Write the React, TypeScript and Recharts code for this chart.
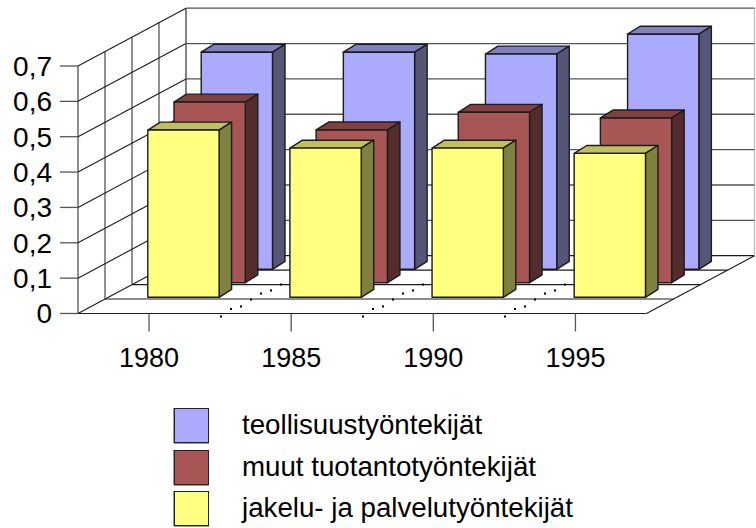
import React from "react";
import { BarChart, Bar, XAxis, YAxis, CartesianGrid, Legend } from "recharts";

const years = ["1980", "1985", "1990", "1995"];
const teollisuus = [0.614, 0.614, 0.609, 0.665];
const muut = [0.511, 0.432, 0.482, 0.466];
const jakelu = [0.473, 0.422, 0.422, 0.407];
const yTicks = [0, 0.1, 0.2, 0.3, 0.4, 0.5, 0.6, 0.7];
const seriesNames = ["teollisuustyöntekijät", "muut tuotantotyöntekijät", "jakelu- ja palvelutyöntekijät"];

const rows = years.map((year, i) => ({
  year,
  teollisuus: teollisuus[i],
  muut: muut[i],
  jakelu: jakelu[i],
}));

const FONT = '"Liberation Sans", Arial, sans-serif';
const LINE = "#1c1c1c";
const SOFT = "#555";
const DEPTH_X = 108;
const DEPTH_Y = 57.8;
const FLOOR_FRACS = [0.25, 0.5, 0.75];
const SPECKS: [number, number][] = [[0, 2], [10, -5.5], [20, -8], [30, -15], [40, -21], [50, -24], [60, -30]];
const BOUNDARIES = [220, 362, 504];

function bar3d(dx: number, dy: number, side: string, top: string, depthX = 12.5, depthY = 7.9) {
  return (props: any) => {
    const { x, y, width, height, fill } = props;
    const l = x + dx;
    const r = l + width;
    const t = y + dy;
    const b = t + height;
    return (
      <g stroke={LINE} strokeWidth={1.4} strokeLinejoin="round">
        <polygon points={`${l},${t} ${l + depthX},${t - depthY} ${r + depthX},${t - depthY} ${r},${t}`} fill={top} />
        <polygon points={`${r},${t} ${r + depthX},${t - depthY} ${r + depthX},${b - depthY} ${r},${b}`} fill={side} />
        <rect x={l} y={t} width={width} height={height} fill={fill} />
      </g>
    );
  };
}

const gridLine = (props: any) => {
  const { x1, x2, y1, index } = props;
  const y = y1;
  const isFloor = index === 0 || Math.abs(y - 313.5) < 1;
  return (
    <g key={`wall-${y}`} fill="none">
      <line x1={x1} y1={y} x2={x1 + DEPTH_X} y2={y - DEPTH_Y} stroke={LINE} strokeWidth={1.1} />
      <line x1={x1 + DEPTH_X} y1={y - DEPTH_Y} x2={x2 + DEPTH_X} y2={y - DEPTH_Y} stroke={isFloor ? LINE : SOFT} strokeWidth={1.3} />
      {isFloor && (
        <g>
          <line x1={x2} y1={y} x2={x2 + DEPTH_X} y2={y - DEPTH_Y} stroke={LINE} strokeWidth={1.1} />
          <line x1={x2 + DEPTH_X} y1={y - DEPTH_Y} x2={x2 + DEPTH_X} y2={8} stroke="#bbb" strokeWidth={1.2} />
          <line x1={x1 + DEPTH_X} y1={y - DEPTH_Y} x2={x1 + DEPTH_X} y2={8} stroke={LINE} strokeWidth={1.1} />
          {FLOOR_FRACS.map((f) => (
            <g key={f}>
              <line x1={x1 + DEPTH_X * f} y1={y - DEPTH_Y * f} x2={x2 + DEPTH_X * f} y2={y - DEPTH_Y * f} stroke={LINE} strokeWidth={1.1} />
              <line x1={x1 + DEPTH_X * f} y1={y - DEPTH_Y * f} x2={x1 + DEPTH_X * f} y2={8 + DEPTH_Y * (1 - f)} stroke={SOFT} strokeWidth={1.3} />
            </g>
          ))}
          {BOUNDARIES.map((bx) =>
            SPECKS.map(([sx, sy]) => (
              <rect key={`${bx}-${sx}`} x={bx + sx} y={y + sy} width={2} height={2} fill="#000" />
            )),
          )}
        </g>
      )}
    </g>
  );
};

const legendContent = (props: any) => {
  const tops = [407.5, 449.5, 491];
  return (
    <div style={{ position: "absolute", left: 0, top: 0, width: 756, height: 528 }}>
      {(props.payload || []).map((item: any, i: number) => (
        <div key={item.value}>
          <div
            style={{
              position: "absolute",
              left: 174,
              top: tops[i],
              width: 33,
              height: 33,
              background: item.color,
              border: "1.5px solid #222",
              boxShadow: "-1px 0 0 #999, 0 1px 0 #999",
            }}
          />
          <div
            style={{
              position: "absolute",
              left: 242,
              top: tops[i],
              height: 34,
              lineHeight: "34px",
              fontFamily: FONT,
              fontSize: 27.7,
              color: "#000",
              whiteSpace: "nowrap",
            }}
          >
            {item.value}
          </div>
        </div>
      ))}
    </div>
  );
};

export default function App() {
  return (
    <div style={{ position: "absolute", left: 0, top: 0, width: 756, height: 528, background: "#fff" }}>
      <BarChart
        width={756}
        height={528}
        data={rows}
        margin={{ top: 66, right: 109.5, bottom: 0, left: 0 }}
        barSize={71.3}
        barGap={-71.3}
      >
        <CartesianGrid horizontal={gridLine} vertical={false} />
        <XAxis
          dataKey="year"
          height={214.5}
          tickSize={18}
          tickMargin={16}
          stroke={LINE}
          tick={{ fontFamily: FONT, fontSize: 27, fill: "#000" }}
          tickLine={{ stroke: SOFT, strokeWidth: 1.3 }}
          interval={0}
        />
        <YAxis
          width={78}
          domain={[0, 0.7]}
          ticks={yTicks}
          tickSize={18}
          tickMargin={8}
          stroke={LINE}
          tick={{ fontFamily: FONT, fontSize: 28, fill: "#000" }}
          tickLine={{ stroke: SOFT, strokeWidth: 1.3 }}
          tickFormatter={(v: number) => String(v).replace(".", ",")}
          interval={0}
        />
        <Legend layout="vertical" align="center" verticalAlign="middle" itemSorter={null} wrapperStyle={{ left: 0, top: 0, width: 756, height: 528 }} content={legendContent} />
        <Bar name={seriesNames[0]} dataKey="teollisuus" fill="#AAAAFF" isAnimationActive={false} shape={bar3d(88.2, -44.2, "#555578", "#8080BF")} />
        <Bar name={seriesNames[1]} dataKey="muut" fill="#A85555" isAnimationActive={false} shape={bar3d(61, -30.8, "#552C2C", "#804040")} />
        <Bar name={seriesNames[2]} dataKey="jakelu" fill="#FFFF80" isAnimationActive={false} shape={bar3d(34.8, -16.2, "#808040", "#BFBF60")} />
      </BarChart>
    </div>
  );
}
